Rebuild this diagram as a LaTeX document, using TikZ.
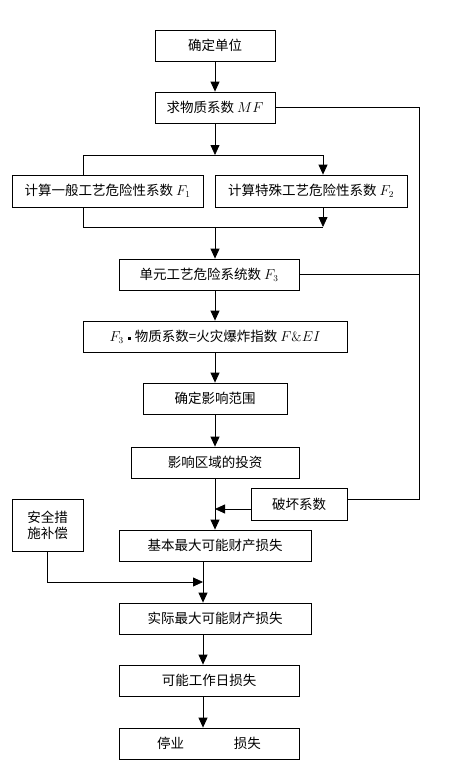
\documentclass[tikz,border=0pt]{standalone}
\usepackage{fontspec}
\newfontfamily\cjk{Noto Sans CJK SC}
\usetikzlibrary{arrows.meta}
\begin{document}
\begin{tikzpicture}[x=1pt, y=-1pt,
    box/.style={draw, line width=0.8pt, minimum height=31pt, inner sep=0pt,
      font=\cjk\fontsize{13.5}{16}\selectfont},
    arr/.style={-{Triangle[width=9pt,length=10pt]}},
    line width=0.8pt]
                  \useasboundingbox (0,0) rectangle (450,776);

                  \node[box, minimum width=120pt] (unit) at (215,45.5) {确定单位};
                  \node[box, minimum width=120pt] (mf) at (215,107.5) {求物质系数 $MF$};
                  \node[box, minimum width=191pt, minimum height=32pt] (f1) at (107.5,191) {计算一般工艺危险性系数 $F_1$};
                  \node[box, minimum width=192pt, minimum height=32pt] (f2) at (311,191) {计算特殊工艺危险性系数 $F_2$};
                  \node[box, minimum width=180pt] (f3) at (209,274.5) {单元工艺危险系统数 $F_3$};
                  \node[box, minimum width=264pt] (fei) at (215,336.5) {$F_3$\hspace{4pt}\raisebox{0.2ex}{\rule{3pt}{3pt}}\hspace{4pt}物质系数=火灾爆炸指数 $F\&EI$};
                  \node[box, minimum width=144pt] (area) at (215,398.5) {确定影响范围};
                  \node[box, minimum width=168pt] (invest) at (215,462.5) {影响区域的投资};
                  \node[box, minimum width=96pt, minimum height=32pt] (damage) at (299,504) {破坏系数};
                  \node[box, minimum width=71pt, minimum height=52pt, align=center] (safety) at (47.5,525) {安全措\\施补偿};
                  \node[box, minimum width=192pt] (basic) at (215,545.5) {基本最大可能财产损失};
                  \node[box, minimum width=192pt] (actual) at (215,618.5) {实际最大可能财产损失};
                  \node[box, minimum width=180pt] (workday) at (209,680.5) {可能工作日损失};
                  \node[box, minimum width=180pt] (stop) at (209,743.5) {停业\hspace{3.7em}损失};

                  \coordinate (sl) at (83,155);
                  \coordinate (sm) at (215,155);
                  \coordinate (sr) at (323,155);
                  \coordinate (jl) at (83,227);
                  \coordinate (jm) at (215,227);
                  \coordinate (jr) at (323,227);
                  \coordinate (fb) at (419,499);
                  \coordinate (dj) at (215,509);
                  \coordinate (lx) at (203,582);

                  \draw[arr] (unit) -- (mf);
                  \draw[arr] (mf) -- (sm);
                  \draw (sl) -- (sr);
                  \draw (sl) -- (sl |- f1.north);
                  \draw[arr] (sr) -- (sr |- f2.north);

                  \draw (f1.south -| jl) -- (jl) -- (jr);
                  \draw[arr] (f2.south -| jr) -- (jr);
                  \draw[arr] (jm) -- (jm |- f3.north);

                  \draw[arr] (f3.south -| fei.north) -- (fei);
                  \draw[arr] (fei) -- (area);
                  \draw[arr] (area) -- (invest);
                  \draw[arr] (invest) -- (basic);

                  \draw (mf.east) -| (fb) -- (fb -| damage.east);
                  \draw (f3.east) -- (f3.east -| fb);
                  \draw[arr] (dj -| damage.west) -- (dj);

                  \draw[arr] (safety.south) |- (lx);
                  \draw[arr] (basic.south -| lx) -- (actual.north -| lx);
                  \draw[arr] (actual.south -| lx) -- (workday.north -| lx);
                  \draw[arr] (workday.south -| lx) -- (stop.north -| lx);

                \end{tikzpicture}
\end{document}
